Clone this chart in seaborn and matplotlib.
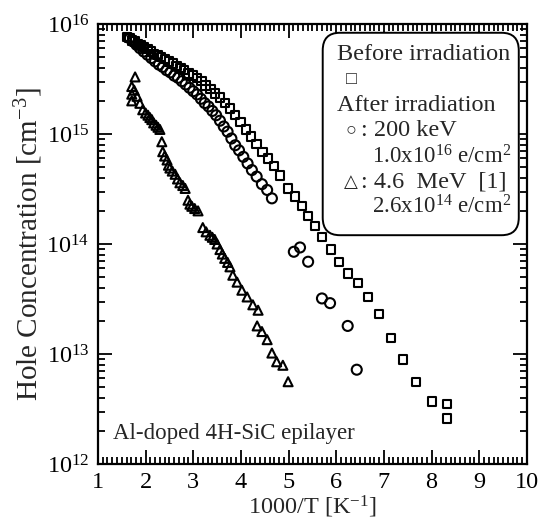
import matplotlib
matplotlib.use("Agg")
import matplotlib.pyplot as plt
import matplotlib.ticker as mtick
from matplotlib.patches import FancyBboxPatch
import pandas as pd
import seaborn as sns

# before irradiation (squares)
before_x = [1.61, 1.66, 1.72, 1.78, 1.84, 1.90, 1.97, 2.04, 2.11, 2.18, 2.25, 2.33, 2.41,
            2.49, 2.57, 2.65, 2.73, 2.81, 2.90, 2.99, 3.08, 3.17, 3.26, 3.36, 3.46, 3.56,
            3.66, 3.77, 3.88, 3.99, 4.10, 4.21, 4.33, 4.45, 4.57, 4.69, 4.82,
            4.99, 5.13, 5.28, 5.41, 5.55, 5.70, 5.89, 6.06, 6.24, 6.45, 6.66, 6.89,
            7.15, 7.40, 7.67, 8.01, 8.32, 8.32]
before_p = [7.59e15, 7.41e15, 7.08e15, 6.92e15, 6.61e15, 6.46e15, 6.17e15, 5.89e15, 5.62e15,
            5.37e15, 5.25e15, 5.01e15, 4.79e15, 4.57e15, 4.37e15, 4.17e15, 3.98e15, 3.80e15,
            3.55e15, 3.39e15, 3.24e15, 3.02e15, 2.75e15, 2.57e15, 2.34e15, 2.14e15, 1.91e15,
            1.70e15, 1.48e15, 1.29e15, 1.10e15, 9.5e14, 8.1e14, 6.9e14, 6.0e14, 5.1e14, 4.2e14,
            3.2e14, 2.7e14, 2.2e14, 1.8e14, 1.45e14, 1.15e14, 8.9e13, 6.9e13, 5.4e13, 4.4e13,
            3.3e13, 2.3e13, 1.4e13, 8.9e12, 5.6e12, 3.7e12, 3.5e12, 2.6e12]

# 200 keV, 1.0x10^16 e/cm^2 (circles)
kev_x = [1.67, 1.74, 1.81, 1.88, 1.96, 2.04, 2.12, 2.20, 2.28, 2.36, 2.44, 2.52, 2.60,
         2.68, 2.76, 2.84, 2.92, 3.00, 3.08, 3.16, 3.24, 3.32, 3.40, 3.48, 3.56, 3.64,
         3.72, 3.80, 3.88, 3.96, 4.05, 4.14, 4.23, 4.33, 4.44, 4.55, 4.65,
         5.11, 5.24, 5.41, 5.70, 5.87, 6.24, 6.43]
kev_p = [7.41e15, 6.92e15, 6.46e15, 6.03e15, 5.62e15, 5.25e15, 4.90e15, 4.57e15, 4.27e15,
         4.07e15, 3.80e15, 3.63e15, 3.39e15, 3.24e15, 3.02e15, 2.82e15, 2.63e15, 2.45e15,
         2.29e15, 2.09e15, 1.91e15, 1.78e15, 1.62e15, 1.48e15, 1.32e15, 1.17e15, 1.05e15,
         9.1e14, 7.9e14, 7.1e14, 6.2e14, 5.4e14, 4.7e14, 4.1e14, 3.5e14, 3.1e14, 2.6e14,
         8.5e13, 9.3e13, 6.9e13, 3.2e13, 2.9e13, 1.8e13, 7.2e12]

# 4.6 MeV, 2.6x10^14 e/cm^2 (triangles)
mev_x = [1.71, 1.78, 1.71, 1.71, 1.76, 1.82, 1.88, 1.94, 2.00, 2.05, 2.09, 2.13, 2.17,
         2.22, 2.26, 2.30, 2.34, 2.36, 2.40, 2.45, 2.48, 2.51, 2.56, 2.62, 2.67, 2.72,
         2.78, 2.83, 2.89, 2.93, 2.97, 3.03, 3.10, 3.20, 3.27, 3.35, 3.40, 3.45, 3.50,
         3.56, 3.61, 3.66, 3.72, 3.77, 3.83, 3.92, 4.02, 4.13, 4.25, 4.36, 4.34, 4.44,
         4.55, 4.65, 4.75, 4.88, 4.99]
mev_p = [2.7e15, 3.3e15, 2.3e15, 2.0e15, 2.5e15, 2.2e15, 1.9e15, 1.66e15, 1.55e15, 1.48e15,
         1.41e15, 1.35e15, 1.26e15, 1.20e15, 1.15e15, 1.10e15, 8.5e14, 6.9e14, 6.3e14, 5.8e14,
         5.2e14, 4.9e14, 4.6e14, 4.3e14, 3.9e14, 3.6e14, 3.4e14, 3.2e14, 2.5e14, 2.3e14,
         2.2e14, 2.1e14, 2.0e14, 1.41e14, 1.29e14, 1.20e14, 1.15e14, 1.10e14, 1.0e14, 8.9e13,
         8.1e13, 7.4e13, 6.8e13, 6.2e13, 5.2e13, 4.5e13, 3.8e13, 3.3e13, 2.8e13, 2.5e13,
         1.8e13, 1.6e13, 1.35e13, 1.02e13, 8.5e12, 7.9e12, 5.6e12]

x_ticks = [1, 2, 3, 4, 5, 6, 7, 8, 9, 10]
y_exps = [12, 13, 14, 15, 16]

sns.set_style("ticks")
serif = ["Liberation Serif", "DejaVu Serif"]
plt.rcParams["font.family"] = serif
plt.rcParams["mathtext.fontset"] = "custom"
plt.rcParams["mathtext.rm"] = "Liberation Serif"
plt.rcParams["mathtext.it"] = "Liberation Serif:italic"
plt.rcParams["xtick.direction"] = "in"
plt.rcParams["ytick.direction"] = "in"

fig = plt.figure(figsize=(5.44, 5.27), dpi=100)
ax = fig.add_axes([0.180, 0.1195, 0.7886, 0.835])

sns.scatterplot(x=before_x, y=before_p, marker="s", s=36, facecolors="none",
                edgecolors="black", linewidth=1.5, ax=ax)
sns.scatterplot(x=kev_x, y=kev_p, marker="o", s=52, facecolors="none",
                edgecolors="black", linewidth=1.5, ax=ax)
sns.scatterplot(x=mev_x, y=mev_p, marker="^", s=42, facecolors="none",
                edgecolors="black", linewidth=1.5, ax=ax)

ax.set_yscale("log")
ax.set_xlim(1, 10)
ax.set_ylim(1e12, 1e16)
ax.set_xticks(x_ticks)
ax.set_xticklabels([str(t) for t in x_ticks])
ax.xaxis.set_minor_locator(mtick.MultipleLocator(0.1))
ax.set_yticks([10.0 ** e for e in y_exps])
ax.set_yticklabels([r"$10^{%d}$" % e for e in y_exps])
ax.yaxis.set_minor_locator(mtick.LogLocator(base=10, subs=range(2, 10), numticks=20))
ax.yaxis.set_minor_formatter(mtick.NullFormatter())
ax.tick_params(which="both", top=True, right=True, width=1.3, labelsize=17.5, colors="black")
ax.tick_params(which="major", length=10, pad=6)
ax.tick_params(which="minor", length=5)
for s in ax.spines.values():
    s.set_linewidth(1.6)
    s.set_color("black")

ax.set_xlabel(r"1000/T [K$^{\mathregular{-1}}$]", fontsize=17.5, labelpad=0)
ax.set_ylabel(r"Hole Concentration [cm$^{\mathregular{-3}}$]", fontsize=21, labelpad=1)

ax.text(0.035, 0.07, "Al-doped 4H-SiC epilayer", transform=ax.transAxes,
        fontsize=16.5, va="center", ha="left")

# legend box
box = FancyBboxPatch((0.524, 0.52), 0.457, 0.46, transform=ax.transAxes,
                     boxstyle="round,pad=0,rounding_size=0.04", fc="white",
                     ec="black", lw=1.4, zorder=5)
ax.add_patch(box)
glyphs = ["Liberation Serif", "DejaVu Sans"]
lfs = 17.5
ax.text(0.557, 0.93, "Before irradiation", transform=ax.transAxes, fontsize=lfs,
        va="center", zorder=6)
ax.text(0.59, 0.873, "\u25a1", transform=ax.transAxes, fontsize=13, family=glyphs,
        weight="bold", va="center", ha="center", zorder=6)
ax.text(0.557, 0.814, "After irradiation", transform=ax.transAxes, fontsize=lfs,
        va="center", zorder=6)
ax.text(0.59, 0.759, "\u25cb", transform=ax.transAxes, fontsize=13, family=glyphs,
        weight="bold", va="center", ha="center", zorder=6)
ax.text(0.613, 0.759, ": 200 keV", transform=ax.transAxes, fontsize=lfs,
        va="center", zorder=6)
ax.text(0.639, 0.698, r"1.0x10$^{\mathregular{16}}$ e/cm$^{\mathregular{2}}$",
        transform=ax.transAxes, fontsize=16.5, va="center", zorder=6)
ax.text(0.59, 0.64, "\u25b3", transform=ax.transAxes, fontsize=13, family=glyphs,
        weight="bold", va="center", ha="center", zorder=6)
ax.text(0.613, 0.64, ": 4.6  MeV  [1]", transform=ax.transAxes, fontsize=lfs,
        va="center", zorder=6)
ax.text(0.639, 0.584, r"2.6x10$^{\mathregular{14}}$ e/cm$^{\mathregular{2}}$",
        transform=ax.transAxes, fontsize=16.5, va="center", zorder=6)

fig.savefig("out.png", dpi=100)
